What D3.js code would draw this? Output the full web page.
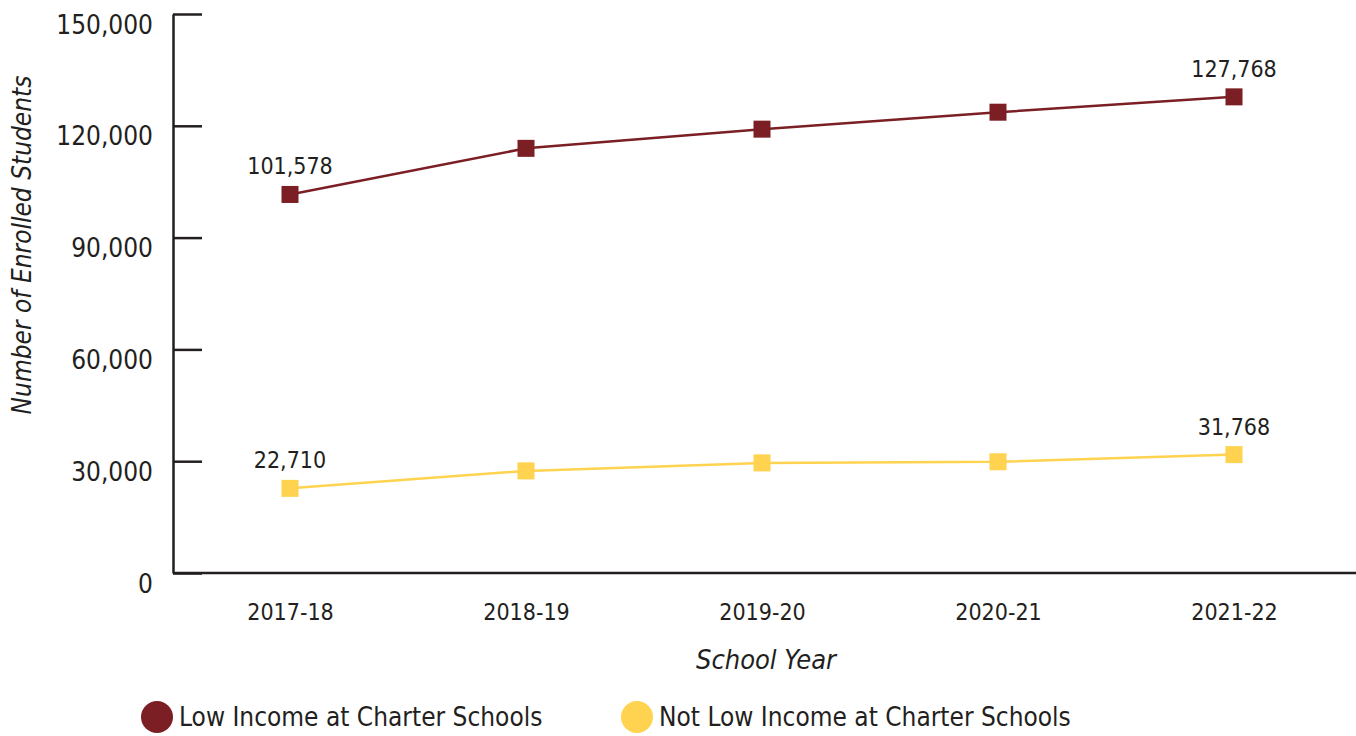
<!DOCTYPE html>
<html>
<head>
<meta charset="utf-8">
<script src="https://cdn.jsdelivr.net/npm/d3@7"></script>
<style>
  html, body { margin: 0; background: #fff; overflow: hidden; }
  svg { display: block; }
  svg text { font-family: "Liberation Sans Narrow", "DejaVu Sans Condensed", "Roboto", sans-serif; fill: #231f20; }
</style>
</head>
<body>
<div id="chart"></div>
<script>
var years = ["2017-18", "2018-19", "2019-20", "2020-21", "2021-22"];
var lowIncome = [101578, 113950, 119100, 123650, 127768];
var notLowIncome = [22710, 27400, 29550, 29850, 31768];
var yTicks = [0, 30000, 60000, 90000, 120000, 150000];
var seriesNames = ["Low Income at Charter Schools", "Not Low Income at Charter Schools"];
var seriesColors = ["#7b1f24", "#ffd24f"];

var W = 1356, H = 736;
var margin = {top: 14, right: 0, bottom: 163, left: 173};
var height = H - margin.top - margin.bottom;

var svg = d3.select("#chart").append("svg")
  .attr("width", W)
  .attr("height", H);

var x = d3.scalePoint()
  .domain(years)
  .range([290, 1234]);

var y = d3.scaleLinear()
  .domain([0, 150000])
  .range([margin.top + height, margin.top]);

// y axis
var yAxis = svg.append("g")
  .attr("transform", "translate(" + margin.left + ",0)")
  .call(d3.axisLeft(y).tickValues(yTicks).tickFormat(d3.format(",")).tickSizeInner(-29).tickSizeOuter(0).tickPadding(20));
yAxis.select(".domain").attr("stroke", "#231f20").attr("stroke-width", 2.5);
yAxis.selectAll(".tick line").attr("stroke", "#231f20").attr("stroke-width", 2.5);
yAxis.selectAll(".tick text")
  .style("font-size", "26px")
  .attr("dy", "19px");

// x axis
var xAxis = svg.append("g")
  .attr("transform", "translate(0," + y(0) + ")")
  .call(d3.axisBottom(x).tickSize(0).tickPadding(31));
xAxis.select(".domain").remove();
xAxis.selectAll(".tick text").style("font-size", "23px");
svg.append("line")
  .attr("x1", margin.left).attr("x2", W)
  .attr("y1", y(0)).attr("y2", y(0))
  .attr("stroke", "#231f20").attr("stroke-width", 2.5);

// axis titles
svg.append("text")
  .attr("transform", "translate(31,245) rotate(-90)")
  .attr("text-anchor", "middle")
  .style("font-size", "26px")
  .style("font-style", "italic")
  .text("Number of Enrolled Students");

svg.append("text")
  .attr("x", 766)
  .attr("y", 669)
  .attr("text-anchor", "middle")
  .style("font-size", "27px")
  .style("font-style", "italic")
  .text("School Year");

// lines
var series = [lowIncome, notLowIncome];
var line = d3.line()
  .x(function(d, i) { return x(years[i]); })
  .y(function(d) { return y(d); });

series.forEach(function(vals, s) {
  svg.append("path")
    .datum(vals)
    .attr("fill", "none")
    .attr("stroke", seriesColors[s])
    .attr("stroke-width", 2.5)
    .attr("d", line);

  svg.selectAll(".pt" + s)
    .data(vals)
    .enter()
    .append("rect")
    .attr("x", function(d, i) { return x(years[i]) - 8.5; })
    .attr("y", function(d) { return y(d) - 8.5; })
    .attr("width", 17)
    .attr("height", 17)
    .attr("fill", seriesColors[s]);

  // labels on first and last
  [0, vals.length - 1].forEach(function(i) {
    svg.append("text")
      .attr("x", x(years[i]))
      .attr("y", y(vals[i]) - 20)
      .attr("text-anchor", "middle")
      .style("font-size", "23px")
      .text(d3.format(",")(vals[i]));
  });
});

// legend
var legendX = [157, 637];
seriesNames.forEach(function(name, i) {
  svg.append("circle")
    .attr("cx", legendX[i])
    .attr("cy", 717)
    .attr("r", 16)
    .attr("fill", seriesColors[i]);
  svg.append("text")
    .attr("x", legendX[i] + 22)
    .attr("y", 717)
    .attr("dy", "0.36em")
    .style("font-size", "26px")
    .text(name);
});
</script>
</body>
</html>
